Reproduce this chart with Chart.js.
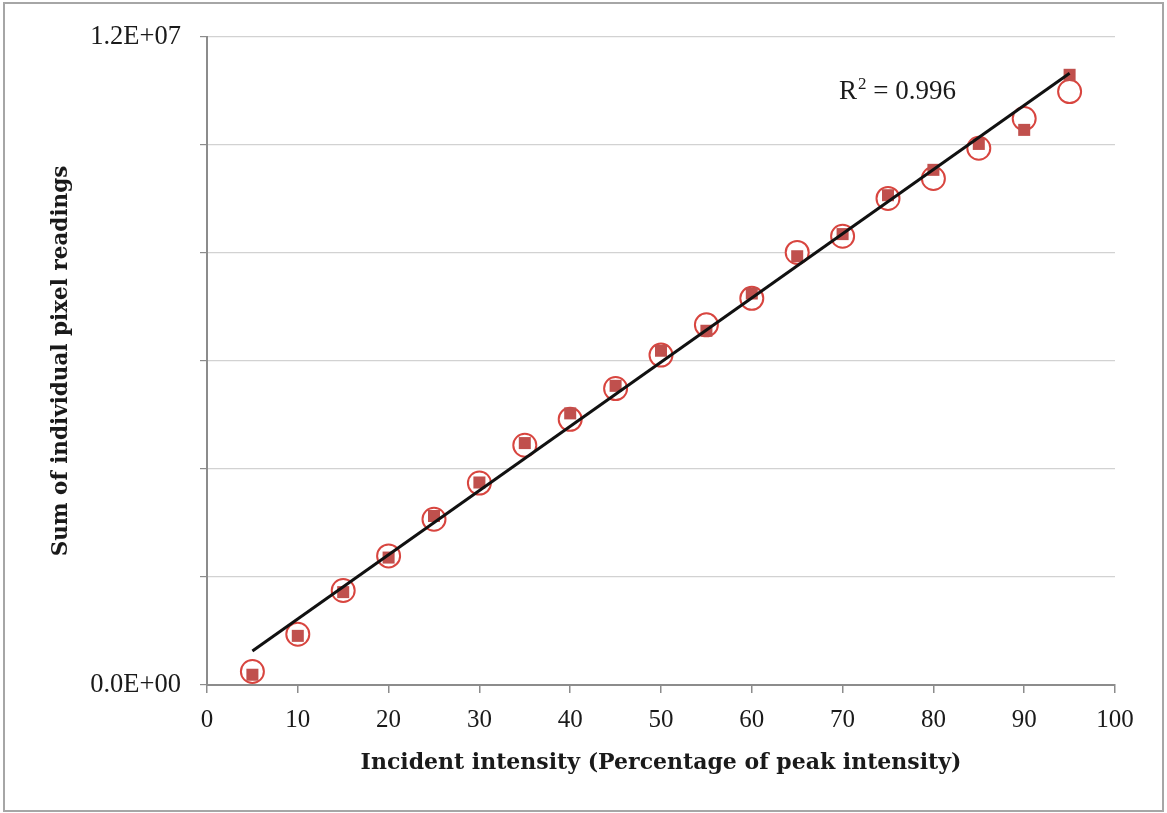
<!DOCTYPE html>
<html>
<head>
<meta charset="utf-8">
<title>Incident intensity vs pixel sum</title>
<script src="https://cdn.jsdelivr.net/npm/chart.js@4/dist/chart.umd.min.js"></script>
<style>
  html, body { margin: 0; padding: 0; background: #fff; }
  #wrap { position: relative; width: 1167px; height: 813px; }
</style>
</head>
<body>
<div id="wrap"><canvas id="chart"></canvas></div>
<script>
// incident intensity, % of peak
const intensity = [5, 10, 15, 20, 25, 30, 35, 40, 45, 50, 55, 60, 65, 70, 75, 80, 85, 90, 95];

// sum of pixel readings, two measurement runs
const runCircles = [0.25e6, 0.94e6, 1.75e6, 2.39e6, 3.07e6, 3.74e6, 4.44e6, 4.92e6, 5.49e6, 6.11e6,
                    6.67e6, 7.16e6, 8.01e6, 8.31e6, 9.01e6, 9.38e6, 9.94e6, 10.49e6, 10.99e6];
const runSquares = [0.19e6, 0.91e6, 1.72e6, 2.36e6, 3.13e6, 3.75e6, 4.48e6, 5.03e6, 5.54e6, 6.19e6,
                    6.56e6, 7.25e6, 7.94e6, 8.35e6, 9.07e6, 9.54e6, 10.02e6, 10.28e6, 11.30e6];

// linear trend line end points
const trendX = [5, 95];
const trendY = [0.63e6, 11.33e6];
const rSquared = '0.996';

// only these y values get a label
const yLabelValues = [0, 12e6];
const yLabelText = ['0.0E+00', '1.2E+07'];

const serif = '"Liberation Serif", "Times New Roman", serif';
const serifBold = '"DejaVu Serif", serif';
const axisGray = '#8c8c8c';

const toPoints = (xs, ys) => xs.map((x, i) => ({ x: x, y: ys[i] }));

// white background plus thin frame around the whole figure
const framePlugin = {
  id: 'frame',
  beforeDraw(chart) {
    const c = chart.ctx;
    c.save();
    c.fillStyle = '#fff';
    c.fillRect(0, 0, chart.width, chart.height);
    c.strokeStyle = '#a6a6a6';
    c.lineWidth = 2;
    c.strokeRect(4, 3, chart.width - 8, chart.height - 5);
    c.restore();
  }
};

// R² text next to the trend line
const rSquaredPlugin = {
  id: 'rsq',
  afterDatasetsDraw(chart) {
    const c = chart.ctx;
    const x = chart.scales.x.getPixelForValue(69.6);
    const y = chart.scales.y.getPixelForValue(10.98e6);
    c.save();
    c.fillStyle = '#1a1a1a';
    c.textBaseline = 'middle';
    c.font = '27px ' + serif;
    c.fillText('R', x, y);
    let w = c.measureText('R').width;
    c.font = '17px ' + serif;
    c.fillText('2', x + w + 1, y - 8);
    w += c.measureText('2').width + 1;
    c.font = '27px ' + serif;
    c.fillText(' = ' + rSquared, x + w, y);
    c.restore();
  }
};

new Chart(document.getElementById('chart'), {
  type: 'scatter',
  data: {
    datasets: [
      {
        type: 'line',
        label: 'Linear fit',
        data: toPoints(trendX, trendY),
        borderColor: '#111',
        borderWidth: 3,
        pointRadius: 0,
        fill: false
      },
      {
        label: 'Run 2',
        data: toPoints(intensity, runSquares),
        pointStyle: 'rect',
        pointRadius: 8.5,
        backgroundColor: '#c0504d',
        borderColor: '#c0504d',
        borderWidth: 0
      },
      {
        label: 'Run 1',
        data: toPoints(intensity, runCircles),
        pointStyle: 'circle',
        pointRadius: 11.5,
        backgroundColor: '#ffffff',
        borderColor: '#d8453f',
        borderWidth: 2
      }
    ]
  },
  options: {
    responsive: true,
    maintainAspectRatio: false,
    animation: false,
    layout: { padding: { left: 45, top: 37, right: 52, bottom: 33 } },
    plugins: {
      legend: { display: false },
      tooltip: { enabled: false }
    },
    scales: {
      x: {
        type: 'linear',
        min: 0,
        max: 100,
        ticks: {
          stepSize: 10,
          color: '#1a1a1a',
          font: { family: serif, size: 25 },
          padding: 12
        },
        grid: {
          drawOnChartArea: false,
          color: axisGray,
          tickLength: 8,
          lineWidth: 1.5
        },
        border: { color: axisGray, width: 2 },
        title: {
          display: true,
          text: 'Incident intensity (Percentage of peak intensity)',
          color: '#1a1a1a',
          font: { family: serifBold, size: 22, weight: 'bold' },
          padding: { top: 4, bottom: 4 }
        },
        afterFit(scale) { scale.height = 95; }
      },
      y: {
        min: 0,
        max: 12e6,
        ticks: {
          stepSize: 2e6,
          color: '#1a1a1a',
          font: { family: serif, size: 26.5 },
          padding: 19,
          callback(v) {
            const i = yLabelValues.indexOf(v);
            return i >= 0 ? yLabelText[i] : '';
          }
        },
        grid: {
          color: '#d2d2d2',
          tickColor: axisGray,
          tickLength: 7,
          lineWidth: 1.2
        },
        border: { color: axisGray, width: 2 },
        title: {
          display: true,
          text: 'Sum of individual pixel readings',
          color: '#1a1a1a',
          font: { family: serifBold, size: 21.5, weight: 'bold' },
          padding: { top: 4, bottom: 4 }
        },
        afterFit(scale) { scale.width = 162; }
      }
    }
  },
  plugins: [framePlugin, rSquaredPlugin]
});
</script>
</body>
</html>
